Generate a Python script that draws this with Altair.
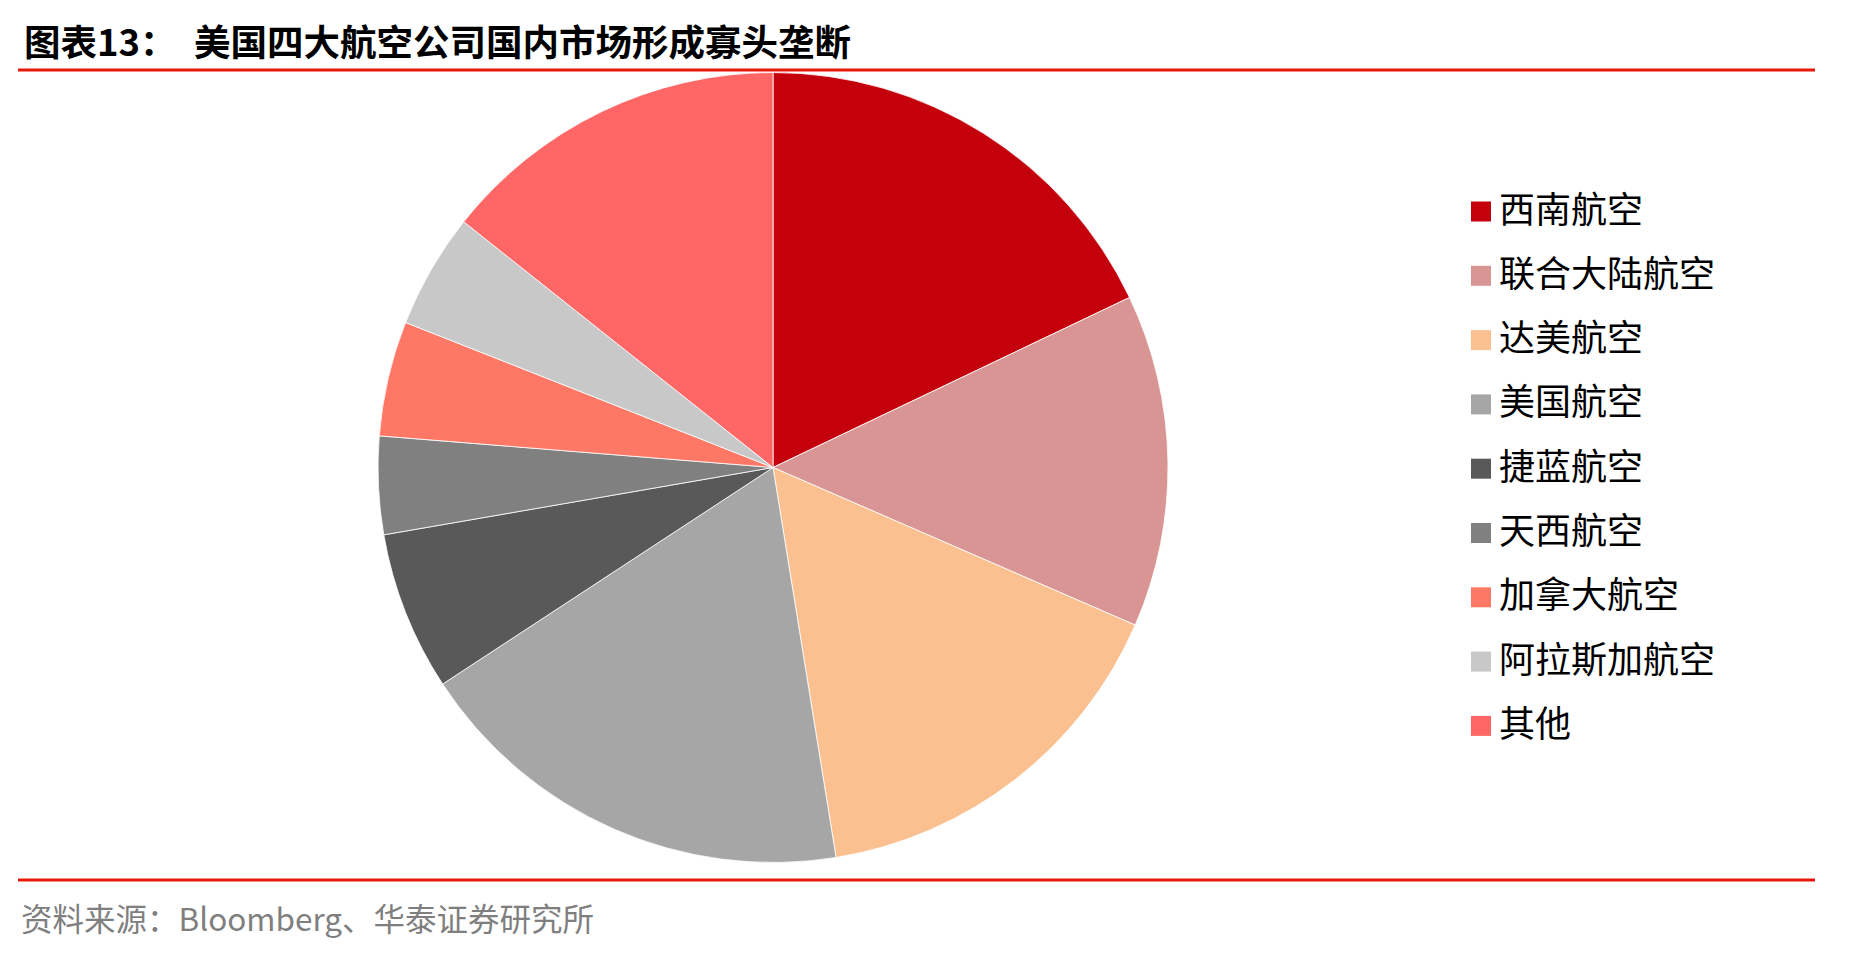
import pandas as pd
import altair as alt

# market share of US domestic airlines (%)
airlines = ['西南航空', '联合大陆航空', '达美航空', '美国航空', '捷蓝航空',
            '天西航空', '加拿大航空', '阿拉斯加航空', '其他']
share = [17.9, 13.6, 15.9, 18.3, 6.5, 4.0, 4.7, 4.7, 14.3]
colors = ['#C5000D', '#D99594', '#FAC090', '#A6A6A6', '#595959',
          '#808080', '#FF7866', '#C8C8C8', '#FF6666']

title_tag = '图表13：'
title_text = '美国四大航空公司国内市场形成寡头垄断'
source_text = '资料来源：Bloomberg、华泰证券研究所'

FONT = 'Noto Sans CJK SC'


def build_data():
    return pd.DataFrame({
        'airline': airlines,
        'share': share,
        'rank': list(range(len(airlines))),
    })


def pie_chart(data):
    pie = alt.Chart(data).mark_arc(
        outerRadius=395, stroke='white', strokeWidth=0.8
    ).encode(
        theta=alt.Theta('share:Q', stack=True),
        order=alt.Order('rank:O'),
        color=alt.Color(
            'airline:N',
            sort=airlines,
            scale=alt.Scale(domain=airlines, range=colors),
            legend=alt.Legend(
                title=None, orient='none', legendX=1455, legendY=185.5,
                symbolType='square', symbolSize=400, symbolStrokeWidth=0,
                symbolOpacity=1, labelFont=FONT, labelFontSize=36,
                labelColor='#000000', labelOffset=0, rowPadding=28.3,
                padding=0, labelLimit=400,
            ),
        ),
        x=alt.value(765),
        y=alt.value(459.5),
    )
    return pie


def decorations():
    one = pd.DataFrame({'k': [0]})
    base = alt.Chart(one)

    top_rule = base.mark_rule(color='#E8180C', strokeWidth=3).encode(
        x=alt.value(10), x2=alt.value(1807), y=alt.value(62))
    bottom_rule = base.mark_rule(color='#E8180C', strokeWidth=3).encode(
        x=alt.value(10), x2=alt.value(1807), y=alt.value(872))

    tag = base.mark_text(
        text=title_tag, font=FONT, fontSize=36.5, fontWeight='bold',
        align='left', baseline='middle', color='#000000'
    ).encode(x=alt.value(16), y=alt.value(37))
    title = base.mark_text(
        text=title_text, font=FONT, fontSize=36.5, fontWeight='bold',
        align='left', baseline='middle', color='#000000'
    ).encode(x=alt.value(186), y=alt.value(37))

    source = base.mark_text(
        text=source_text, font=FONT, fontSize=31.5,
        align='left', baseline='middle', color='#7F7F7F'
    ).encode(x=alt.value(13), y=alt.value(914))

    return top_rule + bottom_rule + tag + title + source


def main():
    data = build_data()
    chart = alt.layer(pie_chart(data), decorations()).properties(
        width=1848, height=946,
        autosize=alt.AutoSizeParams(type='none'),
        padding=0,
    ).configure_view(stroke=None)
    chart.save('out.html', embed_options={'renderer': 'svg', 'actions': False})


main()
